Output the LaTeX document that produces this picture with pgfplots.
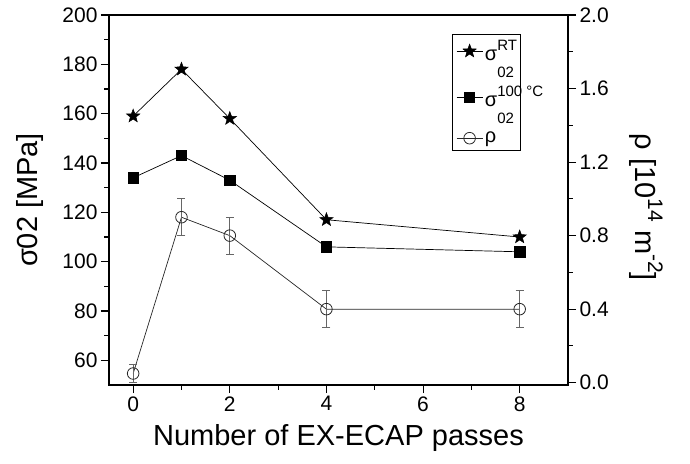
\documentclass[border=0pt]{standalone}
\usepackage{pgfplots}
\pgfplotsset{compat=1.18}
\usepackage{fontspec}
\setmainfont{Liberation Sans}
\usetikzlibrary{plotmarks}
\pgfdeclareplotmark{fstar}{%
  \pgfpathmoveto{\pgfpointpolar{90}{\pgfplotmarksize}}%
  \pgfpathlineto{\pgfpointpolar{126}{0.42\pgfplotmarksize}}%
  \pgfpathlineto{\pgfpointpolar{162}{\pgfplotmarksize}}%
  \pgfpathlineto{\pgfpointpolar{198}{0.42\pgfplotmarksize}}%
  \pgfpathlineto{\pgfpointpolar{234}{\pgfplotmarksize}}%
  \pgfpathlineto{\pgfpointpolar{270}{0.42\pgfplotmarksize}}%
  \pgfpathlineto{\pgfpointpolar{306}{\pgfplotmarksize}}%
  \pgfpathlineto{\pgfpointpolar{342}{0.42\pgfplotmarksize}}%
  \pgfpathlineto{\pgfpointpolar{18}{\pgfplotmarksize}}%
  \pgfpathlineto{\pgfpointpolar{54}{0.42\pgfplotmarksize}}%
  \pgfpathclose
  \pgfusepathqfillstroke}
\newcommand{\sig}[2]{σ\rlap{\raisebox{0.5em}{\fontsize{15}{15}\selectfont #1}}\raisebox{-0.85em}{\fontsize{15}{15}\selectfont #2}}
\begin{document}
\begin{tikzpicture}
\pgfplotsset{
  every axis/.append style={
    scale only axis, width=459pt, height=370pt,
    xmin=-0.5, xmax=9,
    /pgf/number format/assume math mode=true,
    tick align=outside,
    major tick length=8pt, minor tick length=4.5pt,
    every tick/.style={black, line width=1.1pt},
    axis line style={line width=1.4pt},
    tick label style={font=\fontsize{21}{24}\selectfont},
    label style={font=\fontsize{29}{32}\selectfont},
  }
}
\begin{axis}[
  ymin=50, ymax=200,
  ytick={60,80,...,200},
  xtick={0,2,4,6,8},
  minor x tick num=1,
  minor y tick num=1,
  xtick pos=bottom, ytick pos=left,
  xlabel={Number of EX-ECAP passes},
  ylabel={σ02 [MPa]},
  xlabel style={at={(rel axis cs:0.5,-0.142)}, anchor=center},
  ylabel style={at={(rel axis cs:-0.172,0.5)}, anchor=center},
]
\addplot[black, line width=0.7pt, mark=fstar, mark size=7pt, mark options={fill=black, draw=black, line width=0.5pt}] coordinates {(0,159) (1,178) (2,158) (4,117) (8,110)};
\addplot[black, line width=0.7pt, mark=square*, mark size=5.2pt, mark options={fill=black}] coordinates {(0,134) (1,143) (2,133) (4,106) (8,104)};
\end{axis}
\begin{axis}[
  ymin=-0.0125, ymax=2.0,
  ytick={0,0.4,0.8,1.2,1.6,2.0},
  minor y tick num=1,
  axis x line=none, axis y line*=right,
  yticklabel style={/pgf/number format/.cd, fixed, fixed zerofill, precision=1},
  ylabel={ρ [10\raisebox{0.45em}{\fontsize{21}{21}\selectfont 14} m\raisebox{0.45em}{\fontsize{21}{21}\selectfont -2}]},
  ylabel style={at={(rel axis cs:1.170,0.48)}, anchor=center, rotate=180},
  legend style={at={(0.747,0.949)}, anchor=north west, draw=black, line width=0.8pt,
    font=\fontsize{20}{22}\selectfont, row sep=20pt, inner xsep=4pt, inner ysep=4pt},
  legend cell align=left,
  legend image code/.code={\draw[mark repeat=2, mark phase=2] plot coordinates {(0pt,0pt) (13pt,0pt) (26pt,0pt)};},
]
\addlegendimage{black, line width=0.7pt, mark=fstar, mark size=7pt, mark options={fill=black, line width=0.5pt}}
\addlegendentry{\sig{RT}{02}}
\addlegendimage{black, line width=0.7pt, mark=square*, mark size=5.2pt, mark options={fill=black}}
\addlegendentry{\sig{100 °C}{02}}
\addplot[black!85, line width=0.7pt, mark=o, mark size=5.8pt, mark options={fill=white, draw=black!85, line width=0.8pt},
  error bars/.cd, y dir=both, y explicit, error bar style={black!60, line width=0.7pt},
  error mark options={rotate=90, mark size=4pt, black!60, line width=0.7pt}]
  coordinates {(0,0.05) +- (0,0.05) (1,0.9) +- (0,0.1) (2,0.8) +- (0,0.1) (4,0.4) +- (0,0.1) (8,0.4) +- (0,0.1)};
\addlegendentry{ρ}
\end{axis}
\pgfresetboundingbox
\path (current axis.south west) ++(-109pt,-78pt) rectangle ++(690pt,463pt);
\end{tikzpicture}
\end{document}
